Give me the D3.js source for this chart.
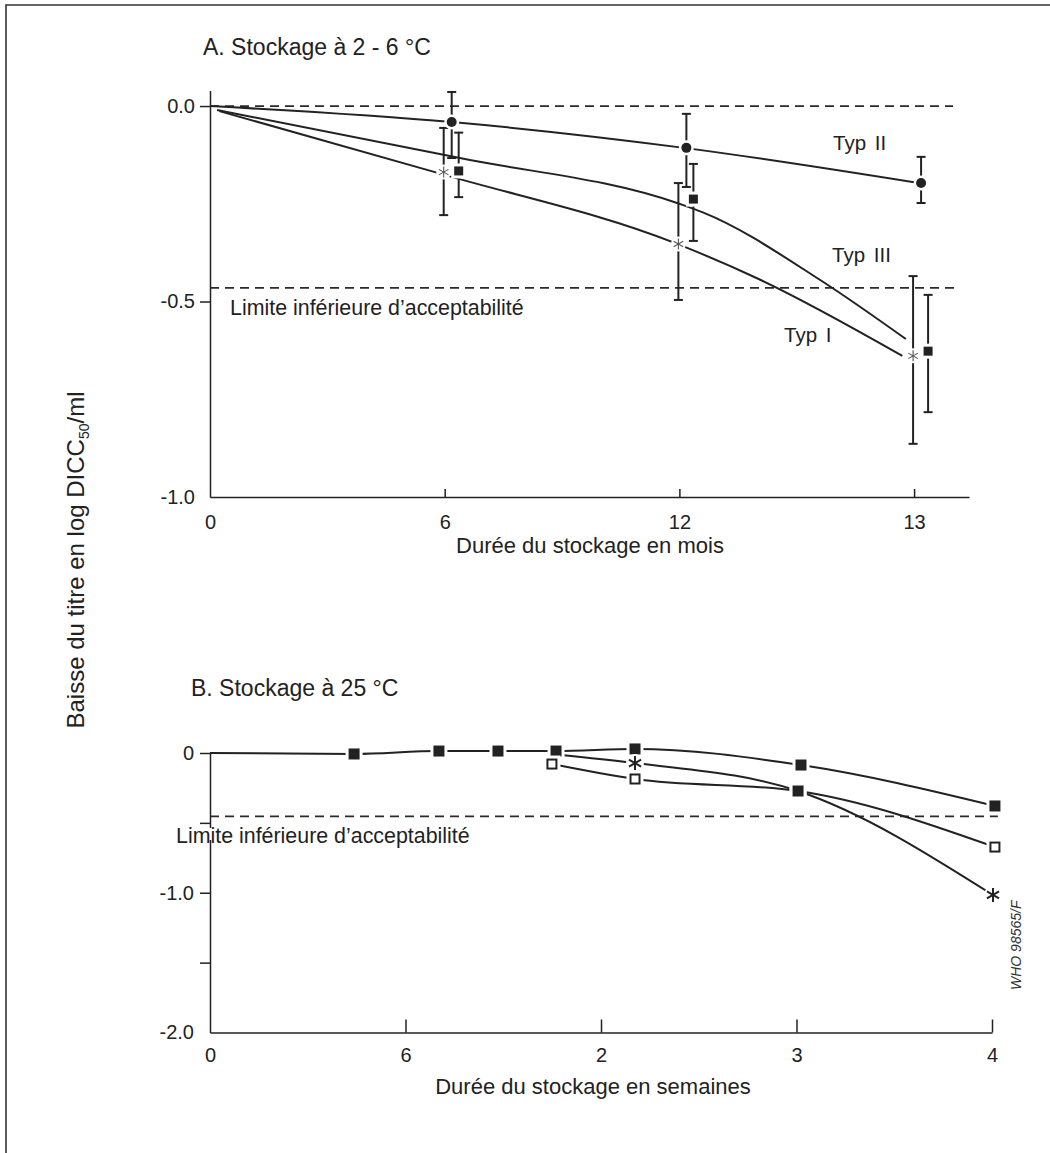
<!DOCTYPE html>
<html>
<head>
<meta charset="utf-8">
<script src="https://cdn.jsdelivr.net/npm/d3@7"></script>
<style>
  html, body { margin: 0; padding: 0; background: #fff; }
  svg { display: block; font-family: "Liberation Sans", Arial, Helvetica, sans-serif; }
  .axis path, .axis line { stroke: #222; stroke-width: 1.5; }
  .axis text { font-size: 20px; fill: #222; font-family: "Liberation Sans", Arial, sans-serif; }
</style>
</head>
<body>
<svg id="chart" width="1050" height="1153"></svg>
<script>
// ---------- Panel A : stockage à 2 - 6 °C (mois) ----------
const monthLabels = ["0", "6", "12", "13"];
const yTickValuesA = [0, -0.5, -1];
const yTickLabelsA = ["0.0", "-0.5", "-1.0"];
const limitA = -0.465;

// measured points at 6, 12 and 13 months (category index 1..3)
const pointIdxA = [1, 2, 3];
const typIMean = [-0.169, -0.353, -0.639];
const typILow  = [-0.279, -0.496, -0.864];
const typIHigh = [-0.056, -0.197, -0.435];

const typIIMean = [-0.041, -0.107, -0.197];
const typIILow  = [-0.133, -0.207, -0.248];
const typIIHigh = [ 0.036, -0.020, -0.130];

const typIIIMean = [-0.166, -0.238, -0.627];
const typIIILow  = [-0.233, -0.345, -0.783];
const typIIIHigh = [-0.068, -0.148, -0.483];

// fitted degradation curves [index, value]
const typIFit   = [[0.04, -0.013], [1, -0.176], [1.98, -0.35], [2.34, -0.443], [2.95, -0.639]];
const typIIFit  = [[0, 0], [1.03, -0.041], [2.02, -0.107], [3.02, -0.197]];
const typIIIFit = [[0.03, -0.01], [1.065, -0.133], [2.0, -0.25], [2.1, -0.272], [2.6, -0.445], [2.965, -0.596]];

// ---------- Panel B : stockage à 25 °C (semaines) ----------
const weekLabels = ["0", "6", "2", "3", "4"];
const yTickValuesB = [0, -0.5, -1, -1.5, -2];
const yTickLabelsB = ["0", "", "-1.0", "", "-2.0"];
const limitB = -0.454;

const seriesFilledX = [0, 0.737, 1.171, 1.473, 1.770, 2.174, 3.023, 4.015];
const seriesFilledY = [0, -0.007, 0.014, 0.014, 0.014, 0.029, -0.086, -0.379];
const seriesFilledSym = ["none", "fsq", "fsq", "fsq", "fsq", "fsq", "fsq", "fsq"];

const seriesStarX = [1.770, 2.174, 3.008, 4.005];
const seriesStarY = [-0.010, -0.072, -0.272, -1.016];
const seriesStarSym = ["none", "star", "fsq", "star"];

const seriesOpenX = [1.749, 2.174, 3.008, 4.015];
const seriesOpenY = [-0.079, -0.186, -0.272, -0.673];
const seriesOpenSym = ["osq", "osq", "fsq", "osq"];

// ---------- drawing ----------
const svg = d3.select("#chart");
const ink = "#222";

// frame
svg.append("path")
  .attr("d", "M6,1153V5H1050")
  .attr("fill", "none").attr("stroke", "#333").attr("stroke-width", 1.6);

// scales
const xA = d3.scaleLinear().domain([0, 3.234]).range([210, 969]);
const yA = d3.scaleLinear().domain([-1, 0.04]).range([497, 90.4]);
const xB = d3.scaleLinear().domain([0, 4]).range([210, 992]);
const yB = d3.scaleLinear().domain([-2, 0]).range([1032.5, 753]);

const curve = d3.curveMonotoneX;

function dashed(g, x, y, v, x0, x1) {
  g.append("line")
    .attr("x1", x(x0)).attr("x2", x(x1))
    .attr("y1", y(v)).attr("y2", y(v))
    .attr("stroke", "#2a2a2a").attr("stroke-width", 1.8)
    .attr("stroke-dasharray", "9,6");
}

function fitLine(g, x, y, pts) {
  g.append("path")
    .datum(pts)
    .attr("fill", "none").attr("stroke", ink).attr("stroke-width", 2)
    .attr("d", d3.line().x(d => x(d[0])).y(d => y(d[1])).curve(curve));
}

// marker drawing with white halo
function marker(g, type, cx, cy, size) {
  const m = g.append("g").attr("transform", `translate(${cx},${cy})`);
  if (type === "circle") {
    m.append("circle").attr("r", size / 2 + 2.5).attr("fill", "#fff");
    m.append("circle").attr("r", size / 2).attr("fill", ink);
  } else if (type === "fsq") {
    m.append("rect").attr("x", -size / 2 - 3).attr("y", -size / 2 - 3)
      .attr("width", size + 6).attr("height", size + 6).attr("fill", "#fff");
    m.append("rect").attr("x", -size / 2).attr("y", -size / 2)
      .attr("width", size).attr("height", size).attr("fill", ink);
  } else if (type === "osq") {
    m.append("rect").attr("x", -size / 2 - 3).attr("y", -size / 2 - 3)
      .attr("width", size + 6).attr("height", size + 6).attr("fill", "#fff");
    m.append("rect").attr("x", -size / 2 + 1).attr("y", -size / 2 + 1)
      .attr("width", size - 2).attr("height", size - 2)
      .attr("fill", "#fff").attr("stroke", ink).attr("stroke-width", 2);
  } else if (type === "star" || type === "starThin") {
    const thin = type === "starThin";
    m.append("circle").attr("r", size / 2 + 2).attr("fill", "#fff");
    const arms = d3.range(6).map(i => i * Math.PI / 3);
    m.selectAll("line.arm").data(arms).enter().append("line")
      .attr("x1", 0).attr("y1", 0)
      .attr("x2", a => Math.sin(a) * size / 2)
      .attr("y2", a => -Math.cos(a) * size / 2)
      .attr("stroke", thin ? "#555" : ink)
      .attr("stroke-width", thin ? 1.1 : 2);
  }
}

function errorBar(g, cx, yLow, yHigh) {
  const cap = 4.5;
  g.append("line").attr("x1", cx).attr("x2", cx).attr("y1", yLow).attr("y2", yHigh)
    .attr("stroke", ink).attr("stroke-width", 2);
  [yLow, yHigh].forEach(yy => {
    g.append("line").attr("x1", cx - cap).attr("x2", cx + cap).attr("y1", yy).attr("y2", yy)
      .attr("stroke", ink).attr("stroke-width", 2);
  });
}

// ===== Panel A =====
const gA = svg.append("g");
gA.append("text").attr("x", 203).attr("y", 55)
  .attr("font-size", 23).attr("fill", ink).text("A. Stockage à 2 - 6 °C");

dashed(gA, xA, yA, 0, 0, 3.166);
dashed(gA, xA, yA, limitA, 0, 3.187);

fitLine(gA, xA, yA, typIFit);
fitLine(gA, xA, yA, typIIFit);
fitLine(gA, xA, yA, typIIIFit);

// pixel offsets of the three groups around each category position
const groupsA = [
  { mean: typIMean,   low: typILow,   high: typIHigh,   sym: "starThin", size: 11, off: -1 },
  { mean: typIIMean,  low: typIILow,  high: typIIHigh,  sym: "circle",   size: 10, off: 7 },
  { mean: typIIIMean, low: typIIILow, high: typIIIHigh, sym: "fsq",      size: 9,  off: 14 }
];
groupsA.forEach(s => {
  pointIdxA.forEach((idx, i) => {
    errorBar(gA, xA(idx) + s.off, yA(s.low[i]), yA(s.high[i]));
  });
});
groupsA.forEach(s => {
  pointIdxA.forEach((idx, i) => {
    marker(gA, s.sym, xA(idx) + s.off, yA(s.mean[i]), s.size);
  });
});

// axes A
const axAy = gA.append("g").attr("class", "axis").attr("transform", `translate(${xA(0)},0)`)
  .call(d3.axisLeft(yA).tickValues(yTickValuesA)
    .tickFormat((d, i) => yTickLabelsA[i]).tickSizeInner(10).tickSizeOuter(0).tickPadding(5));
axAy.selectAll(".tick").filter(d => d === -1).select("line").remove();
const axAx = gA.append("g").attr("class", "axis").attr("transform", `translate(0,${yA(-1)})`)
  .call(d3.axisBottom(xA).tickValues([0, 1, 2, 3])
    .tickFormat(i => monthLabels[i]).tickSizeInner(-8).tickSizeOuter(0).tickPadding(18));
axAx.selectAll(".tick").filter(d => d === 0).select("line").remove();
[axAy, axAx].forEach(a => a.selectAll("text").attr("font-family", null).attr("font-size", null));

gA.append("text").attr("x", 590).attr("y", 553).attr("text-anchor", "middle")
  .attr("font-size", 22).attr("fill", ink).text("Durée du stockage en mois");
gA.append("text").attr("x", 230).attr("y", 315)
  .attr("font-size", 21.4).attr("fill", ink).text("Limite inférieure d’acceptabilité");
gA.append("text").attr("x", 833).attr("y", 150).attr("font-size", 20.5).attr("fill", ink)
  .attr("word-spacing", 3).text("Typ II");
gA.append("text").attr("x", 832).attr("y", 262).attr("font-size", 20.5).attr("fill", ink)
  .attr("word-spacing", 3).text("Typ III");
gA.append("text").attr("x", 784).attr("y", 342).attr("font-size", 20.5).attr("fill", ink)
  .attr("word-spacing", 3).text("Typ I");

// ===== Panel B =====
const gB = svg.append("g");
gB.append("text").attr("x", 191).attr("y", 696)
  .attr("font-size", 23).attr("fill", ink).text("B. Stockage à 25 °C");

dashed(gB, xB, yB, limitB, 0, 4.03);

const seriesB = [
  { x: seriesFilledX, y: seriesFilledY, sym: seriesFilledSym },
  { x: seriesStarX,   y: seriesStarY,   sym: seriesStarSym },
  { x: seriesOpenX,   y: seriesOpenY,   sym: seriesOpenSym }
];
seriesB.forEach(s => fitLine(gB, xB, yB, s.x.map((v, i) => [v, s.y[i]])));
const symSize = { fsq: 11, osq: 11, star: 14 };
seriesB.forEach(s => {
  s.x.forEach((v, i) => {
    if (s.sym[i] !== "none") marker(gB, s.sym[i], xB(v), yB(s.y[i]), symSize[s.sym[i]]);
  });
});

const axBy = gB.append("g").attr("class", "axis").attr("transform", `translate(${xB(0)},0)`)
  .call(d3.axisLeft(yB).tickValues(yTickValuesB)
    .tickFormat((d, i) => yTickLabelsB[i]).tickSizeInner(10).tickSizeOuter(0).tickPadding(6));
axBy.selectAll(".tick").filter(d => d === -2).select("line").remove();
const axBx = gB.append("g").attr("class", "axis").attr("transform", `translate(0,${yB(-2)})`)
  .call(d3.axisBottom(xB).tickValues([0, 1, 2, 3, 4])
    .tickFormat(i => weekLabels[i]).tickSizeInner(-13).tickSizeOuter(0).tickPadding(15));
axBx.selectAll(".tick").filter(d => d === 0).select("line").remove();
[axBy, axBx].forEach(a => a.selectAll("text").attr("font-family", null).attr("font-size", null));

// limit label sits on a white patch that interrupts the y axis
const limB = gB.append("text").attr("x", 176).attr("y", 843)
  .attr("font-size", 21.4).attr("fill", ink).text("Limite inférieure d’acceptabilité");
const bb = limB.node().getBBox();
gB.insert("rect", () => limB.node())
  .attr("x", bb.x).attr("y", bb.y + 4).attr("width", bb.width).attr("height", 843 - bb.y - 7)
  .attr("fill", "#fff");

gB.append("text").attr("x", 593).attr("y", 1094).attr("text-anchor", "middle")
  .attr("font-size", 22).attr("fill", ink).text("Durée du stockage en semaines");

// shared y-axis title
const yt = svg.append("text").attr("transform", "translate(84,560) rotate(-90)")
  .attr("text-anchor", "middle").attr("font-size", 24).attr("fill", ink);
yt.append("tspan").text("Baisse du titre en log DICC");
yt.append("tspan").attr("font-size", 14).attr("dy", 5).text("50");
yt.append("tspan").attr("dy", -5).text("/ml");

// document code
svg.append("text").attr("transform", "translate(1021,990) rotate(-90)")
  .attr("font-size", 14).attr("font-style", "italic").attr("fill", "#333")
  .text("WHO 98565/F");
</script>
</body>
</html>
